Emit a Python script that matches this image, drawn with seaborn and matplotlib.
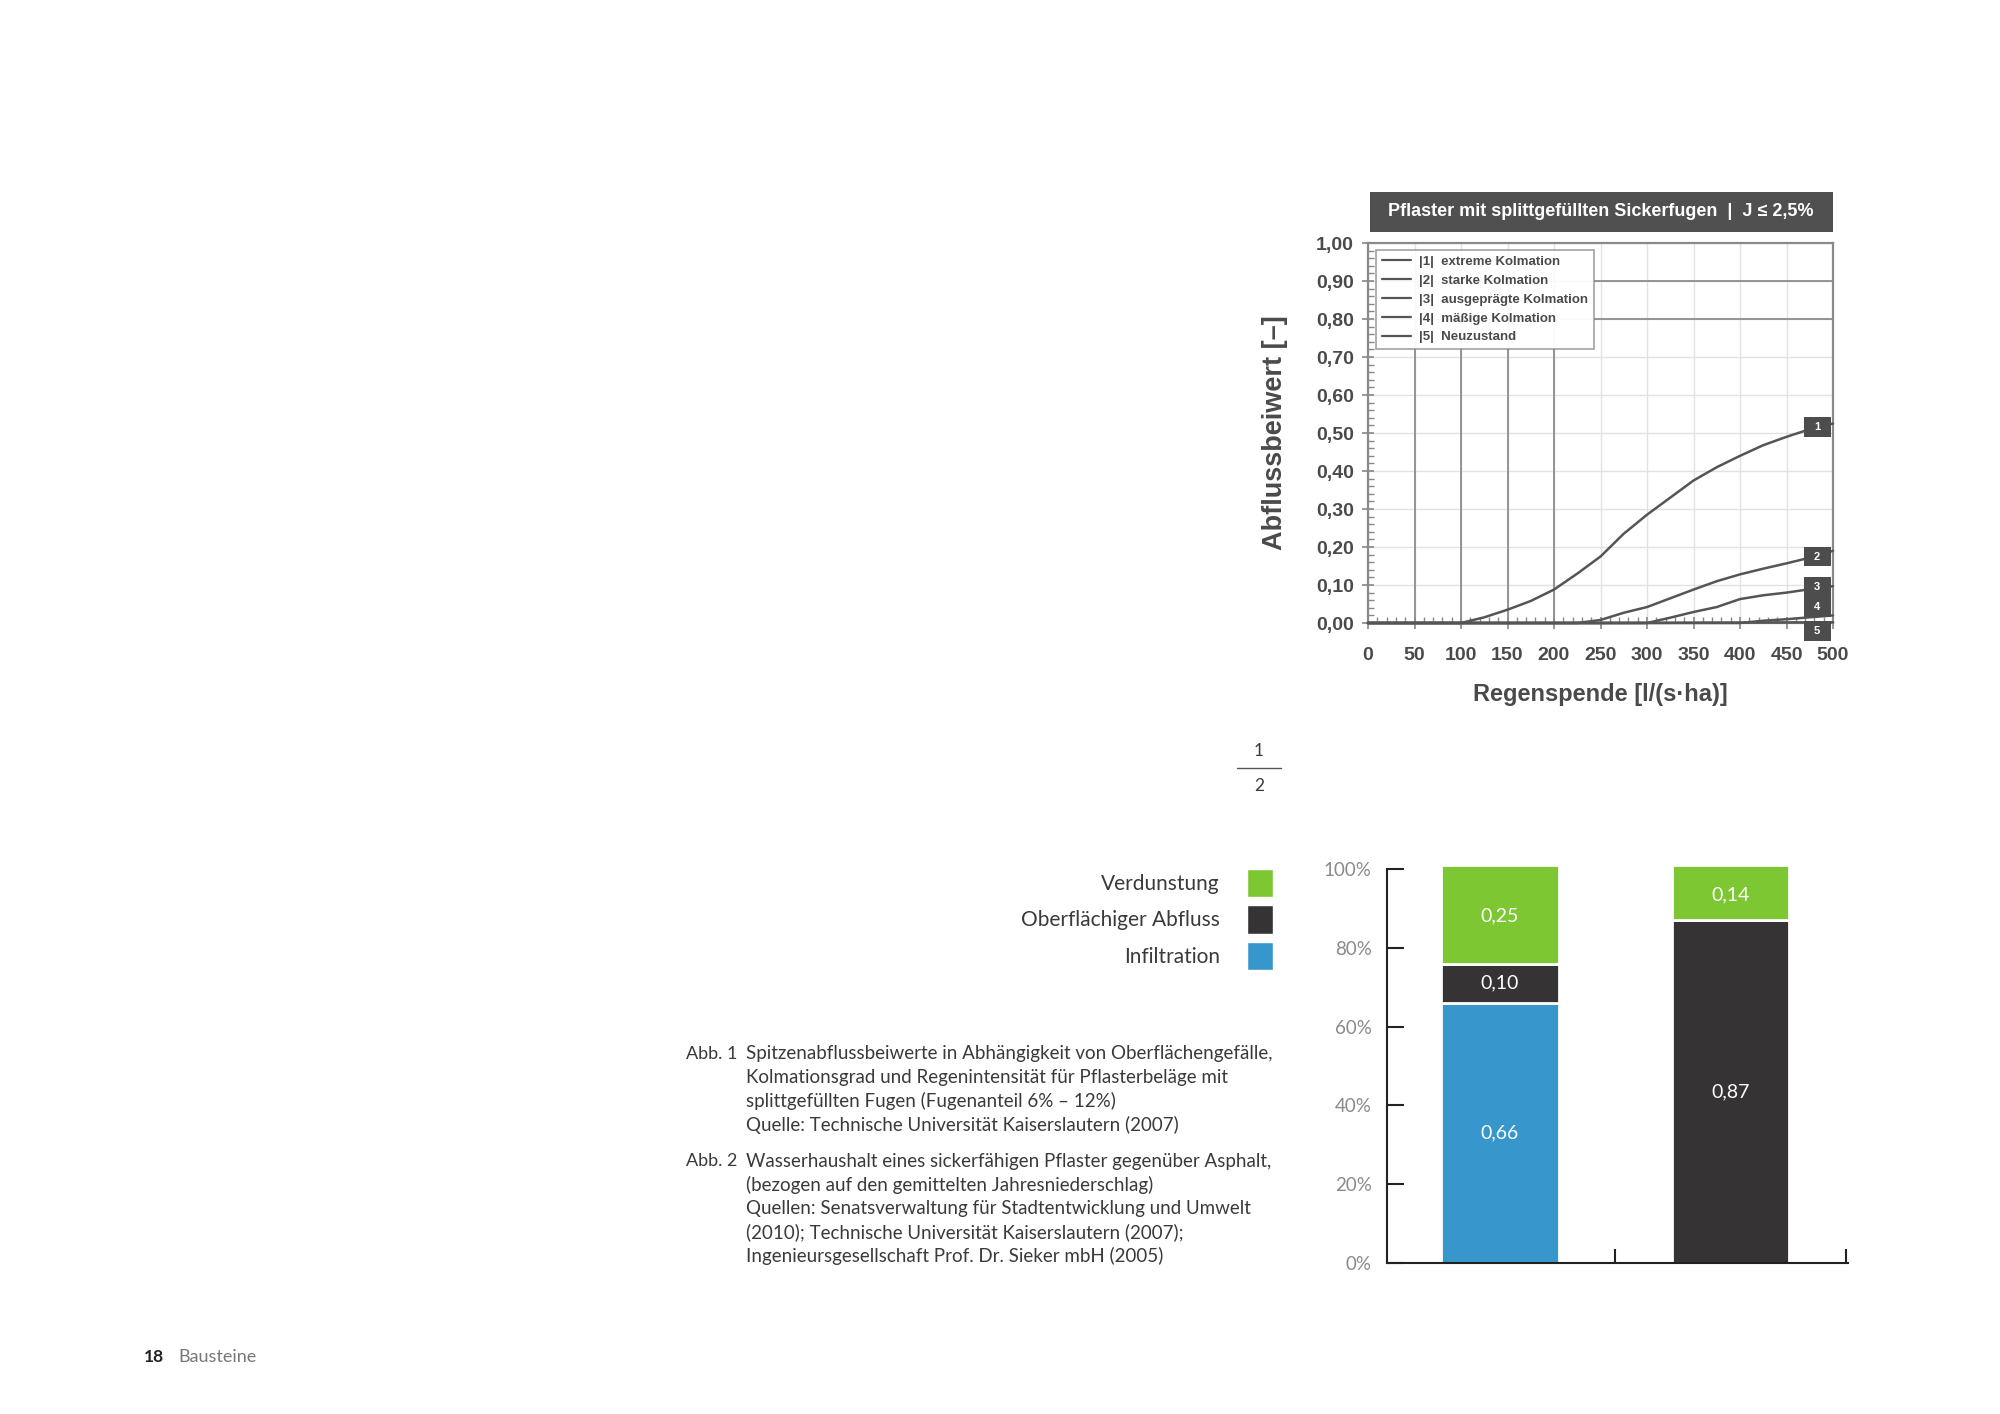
import numpy as np
import pandas as pd
import matplotlib.pyplot as plt
import seaborn as sns
from matplotlib.ticker import MultipleLocator, FuncFormatter
from matplotlib.patches import Rectangle, Patch
from matplotlib.lines import Line2D

# --- Abb. 1: Spitzenabflussbeiwerte ---
kurve_namen = ['|1|  extreme Kolmation', '|2|  starke Kolmation', '|3|  ausgeprägte Kolmation',
               '|4|  mäßige Kolmation', '|5|  Neuzustand']
k1_x = [0, 100, 125, 150, 175, 200, 225, 250, 275, 300, 325, 350, 375, 400, 425, 450, 475, 500]
k1_y = [0, 0, 0.015, 0.035, 0.058, 0.088, 0.13, 0.175, 0.235, 0.285, 0.33, 0.375, 0.41, 0.44, 0.468, 0.49, 0.51, 0.525]
k2_x = [0, 225, 250, 275, 300, 325, 350, 375, 400, 425, 450, 475, 500]
k2_y = [0, 0, 0.008, 0.027, 0.042, 0.065, 0.088, 0.11, 0.128, 0.143, 0.157, 0.172, 0.19]
k3_x = [0, 300, 325, 350, 375, 400, 425, 450, 475, 500]
k3_y = [0, 0, 0.014, 0.029, 0.042, 0.063, 0.073, 0.08, 0.089, 0.097]
k4_x = [0, 400, 425, 450, 475, 500]
k4_y = [0, 0, 0.006, 0.01, 0.015, 0.02]
k5_x = [0, 250, 500]
k5_y = [0, 0, 0.002]
marken_y = [0.515, 0.175, 0.095, 0.042, -0.021]
marken_x = 483

# --- Abb. 2: Wasserhaushalt ---
kategorien = ['Pflaster', 'Asphalt']
infiltration = [0.66, 0.0]
abfluss = [0.10, 0.87]
verdunstung = [0.25, 0.14]

gruen = '#7dc832'
dunkel = '#353334'
blau = '#3797cc'

sns.set_style('white')
plt.rcParams['font.family'] = ['Lato', 'DejaVu Sans']

fig = plt.figure(figsize=(20, 14.14), dpi=100)

# ---------------- Abb. 1 ----------------
grau = '#4a4a4a'
arial = ['Liberation Sans', 'DejaVu Sans']
ax1 = fig.add_axes([0.684, 0.5594, 0.2325, 0.2687])
ax1.set_xlim(0, 500)
ax1.set_ylim(0, 1)
ax1.xaxis.set_major_locator(MultipleLocator(50))
ax1.yaxis.set_major_locator(MultipleLocator(0.1))
ax1.xaxis.set_minor_locator(MultipleLocator(10))
ax1.yaxis.set_minor_locator(MultipleLocator(0.02))
ax1.grid(True, which='major', color='#e2e2e2', lw=1)
ax1.yaxis.set_major_formatter(FuncFormatter(lambda v, p: f'{v:.2f}'.replace('.', ',')))
ax1.tick_params(which='major', direction='inout', length=8, width=1.2, color='#888',
                bottom=True, left=True, labelsize=14, labelcolor=grau, pad=6)
ax1.tick_params(axis='x', which='major', pad=13)
ax1.tick_params(which='minor', direction='in', length=4, width=1, color='#888', bottom=True, left=True)
for lab in ax1.get_xticklabels() + ax1.get_yticklabels():
    lab.set_fontfamily(arial)
    lab.set_fontweight('bold')
for sp in ax1.spines.values():
    sp.set_color('#8a8a8a')
    sp.set_linewidth(1.6)

# dunklere Rasterlinien neben/unter der Legende
ax1.hlines([0.8, 0.9], 243, 500, color='#8c8c8c', lw=1.3, zorder=1)
ax1.vlines([50, 100, 150, 200], 0, 0.724, color='#8c8c8c', lw=1.3, zorder=1)

kurven = [(k1_x, k1_y), (k2_x, k2_y), (k3_x, k3_y), (k4_x, k4_y), (k5_x, k5_y)]
for xs, ys in kurven:
    sns.lineplot(x=xs, y=ys, color='#555555', lw=1.8, ax=ax1, clip_on=False, zorder=3)

for i, my in enumerate(marken_y):
    ax1.add_patch(Rectangle((marken_x - 14.5, my - 0.026), 29, 0.052, fc='#4d4d4d', ec='none',
                            clip_on=False, zorder=5))
    ax1.text(marken_x, my, str(i + 1), ha='center', va='center', color='white', fontsize=8,
             fontweight='bold', family=arial, zorder=6)

handles = [Line2D([], [], color='#555555', lw=1.6) for _ in kurve_namen]
leg1 = ax1.legend(handles, kurve_namen, loc='upper left', bbox_to_anchor=(0.017, 0.982),
                  borderaxespad=0, frameon=True, fancybox=False, handlelength=2.2,
                  prop={'family': arial, 'weight': 'bold', 'size': 9.5}, labelspacing=0.5,
                  borderpad=0.45, handletextpad=0.6)
leg1.get_frame().set_edgecolor('#8a8a8a')
leg1.get_frame().set_linewidth(1.2)
for t in leg1.get_texts():
    t.set_color(grau)

ax1.set_xlabel('Regenspende [l/(s·ha)]', fontsize=17, fontweight='bold', color=grau, family=arial)
ax1.set_ylabel('Abflussbeiwert [–]', fontsize=19.5, fontweight='bold', color=grau, family=arial)
ax1.xaxis.set_label_coords(0.499, -0.158)
ax1.yaxis.set_label_coords(-0.172, 0.5)

fig.add_artist(Rectangle((0.685, 1 - 232 / 1414), 0.2315, 40 / 1414, transform=fig.transFigure,
                         fc='#505050', ec='none'))
fig.text(0.8005, 1 - 212 / 1414, 'Pflaster mit splittgefüllten Sickerfugen  |  J ≤ 2,5%',
         ha='center', va='center', color='white', fontsize=13, fontweight='bold', family=arial)

# ---------------- Abb. 2 ----------------
ax2 = fig.add_axes([0.6935, 0.1068, 0.2305, 0.2786])
bott2 = [a + b for a, b in zip(infiltration, abfluss)]
sns.barplot(x=kategorien, y=infiltration, color=blau, saturation=1, width=0.51,
            edgecolor='white', linewidth=2, ax=ax2)
sns.barplot(x=kategorien, y=abfluss, bottom=infiltration, color=dunkel, saturation=1, width=0.51,
            edgecolor='white', linewidth=2, ax=ax2)
sns.barplot(x=kategorien, y=verdunstung, bottom=bott2, color=gruen, saturation=1, width=0.51,
            edgecolor='white', linewidth=2, ax=ax2)
for cont, vals in zip(ax2.containers, [infiltration, abfluss, verdunstung]):
    for bar in cont:
        bar.set_clip_on(False)
    ax2.bar_label(cont, labels=[f'{v:.2f}'.replace('.', ',') if v > 0 else '' for v in vals],
                  label_type='center', color='white', fontsize=14)

ax2.set_xlim(-0.49, 1.51)
ax2.set_ylim(0, 1)
ax2.set_xticks([0.5, 1.5])
ax2.set_xticklabels(['', ''])
ax2.set_yticks(np.arange(0, 1.01, 0.2))
ax2.set_yticklabels([f'{int(round(v * 100))}%' for v in np.arange(0, 1.01, 0.2)])
ax2.tick_params(axis='y', direction='in', length=12, width=1.5, color='#222', left=True,
                labelsize=13.5, labelcolor='#8a8a8a', pad=11)
ax2.tick_params(axis='x', direction='in', length=10, width=1.5, color='#222', bottom=True)
ax2.set_xlabel('')
ax2.set_ylabel('')
for s in ['top', 'right']:
    ax2.spines[s].set_visible(False)
for s in ['left', 'bottom']:
    ax2.spines[s].set_color('#222')
    ax2.spines[s].set_linewidth(1.5)

leg_handles = [Patch(fc=gruen), Patch(fc=dunkel), Patch(fc=blau)]
leg2 = fig.legend(leg_handles, ['Verdunstung', 'Oberflächiger Abfluss', 'Infiltration'],
                  loc='upper right', bbox_to_anchor=(0.6365, 1 - 869 / 1414), frameon=False,
                  markerfirst=False, handlelength=1.25, handleheight=1.7, labelspacing=0.4,
                  handletextpad=1.3, borderpad=0, borderaxespad=0, fontsize=15)
for t in leg2.get_texts():
    t.set_color('#3a3a3a')

# ---------------- Texte ----------------
txt = '#3a3a3a'
fig.text(1259 / 2000, 1 - 751 / 1414, '1', ha='center', va='center', fontsize=12.5, color=txt)
fig.text(1259 / 2000, 1 - 786 / 1414, '2', ha='center', va='center', fontsize=12.5, color=txt)
fig.add_artist(Line2D([1237 / 2000, 1281 / 2000], [1 - 768 / 1414] * 2, transform=fig.transFigure,
                      color='#555', lw=1))

abb1 = ['Spitzenabflussbeiwerte in Abhängigkeit von Oberflächengefälle,',
        'Kolmationsgrad und Regenintensität für Pflasterbeläge mit',
        'splittgefüllten Fugen (Fugenanteil 6% – 12%)',
        'Quelle: Technische Universität Kaiserslautern (2007)']
abb2 = ['Wasserhaushalt eines sickerfähigen Pflaster gegenüber Asphalt,',
        '(bezogen auf den gemittelten Jahresniederschlag)',
        'Quellen: Senatsverwaltung für Stadtentwicklung und Umwelt',
        '(2010); Technische Universität Kaiserslautern (2007);',
        'Ingenieursgesellschaft Prof. Dr. Sieker mbH (2005)']
for start, kopf, zeilen in [(1054, 'Abb. 1', abb1), (1161, 'Abb. 2', abb2)]:
    fig.text(686 / 2000, 1 - start / 1414, kopf, ha='left', va='center', fontsize=13, color=txt)
    for j, z in enumerate(zeilen):
        fig.text(746 / 2000, 1 - (start + j * 23.7) / 1414, z, ha='left', va='center',
                 fontsize=13.5, color=txt)

fig.text(144 / 2000, 1 - 1357 / 1414, '18', ha='left', va='center', fontsize=12.5,
         fontweight='bold', color='#222')
fig.text(178 / 2000, 1 - 1357 / 1414, 'Bausteine', ha='left', va='center', fontsize=13,
         color='#777')

fig.savefig('out.png', dpi=100, facecolor='white')
